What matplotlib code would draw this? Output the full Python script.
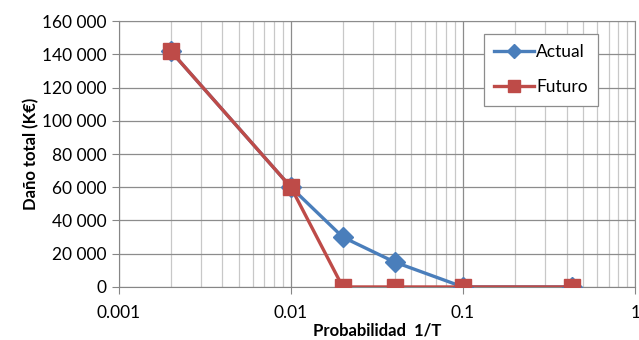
import numpy as np
import matplotlib.pyplot as plt
from matplotlib.ticker import FuncFormatter, LogLocator, NullFormatter

plt.rcParams['font.family'] = ['Lato', 'DejaVu Sans']

# probability 1/T and damage (K EUR)
prob = [0.002, 0.01, 0.02, 0.04, 0.1, 0.43]
actual = [142000, 60000, 30000, 15000, 0, 0]
futuro = [142000, 60000, 0, 0, 0, 0]

blue = '#4A7EBB'
red = '#BE4B48'

fig = plt.figure(figsize=(6.39, 3.4), dpi=100)
ax = fig.add_axes([0.186, 0.156, 0.808, 0.782])

ax.plot(prob, actual, color=blue, lw=2.4, marker='D', ms=10, label='Actual', zorder=3)
ax.plot(prob, futuro, color=red, lw=2.4, marker='s', ms=11.5, label='Futuro', zorder=4)

ax.set_xscale('log')
ax.set_xlim(0.001, 1)
ax.set_ylim(0, 160000)
ax.set_yticks(np.arange(0, 160001, 20000))
ax.yaxis.set_major_formatter(FuncFormatter(lambda v, p: f'{int(v):,}'.replace(',', ' ')))
ax.xaxis.set_major_locator(LogLocator(base=10, numticks=10))
ax.xaxis.set_major_formatter(FuncFormatter(lambda v, p: f'{v:g}'))
ax.xaxis.set_minor_locator(LogLocator(base=10, subs=np.arange(2, 10), numticks=20))
ax.xaxis.set_minor_formatter(NullFormatter())

ax.grid(which='major', axis='both', color='#8c8c8c', lw=0.9)
ax.grid(which='minor', axis='x', color='#c8c8c8', lw=0.9)
ax.set_axisbelow(True)

for s in ['top', 'right']:
    ax.spines[s].set_color('#8c8c8c')
for s in ['left', 'bottom']:
    ax.spines[s].set_color('#868686')
ax.tick_params(axis='both', which='major', labelsize=12.5, color='#868686', length=5, pad=4)
ax.tick_params(axis='x', which='minor', length=0)
ax.tick_params(axis='x', which='major', pad=8)

ax.set_xlabel('Probabilidad  1/T', fontsize=12, fontweight='bold', labelpad=1)
ax.set_ylabel('Daño total (K€)', fontsize=12, fontweight='bold', labelpad=2)

leg = ax.legend(loc='upper right', bbox_to_anchor=(0.945, 0.985), fontsize=12.5,
                fancybox=False, framealpha=1, edgecolor='#8c8c8c', markerscale=0.75,
                handlelength=2.3, handletextpad=0.1, labelspacing=1.1, borderpad=0.6)
leg.get_frame().set_linewidth(0.9)

fig.savefig('out.png', dpi=100)
